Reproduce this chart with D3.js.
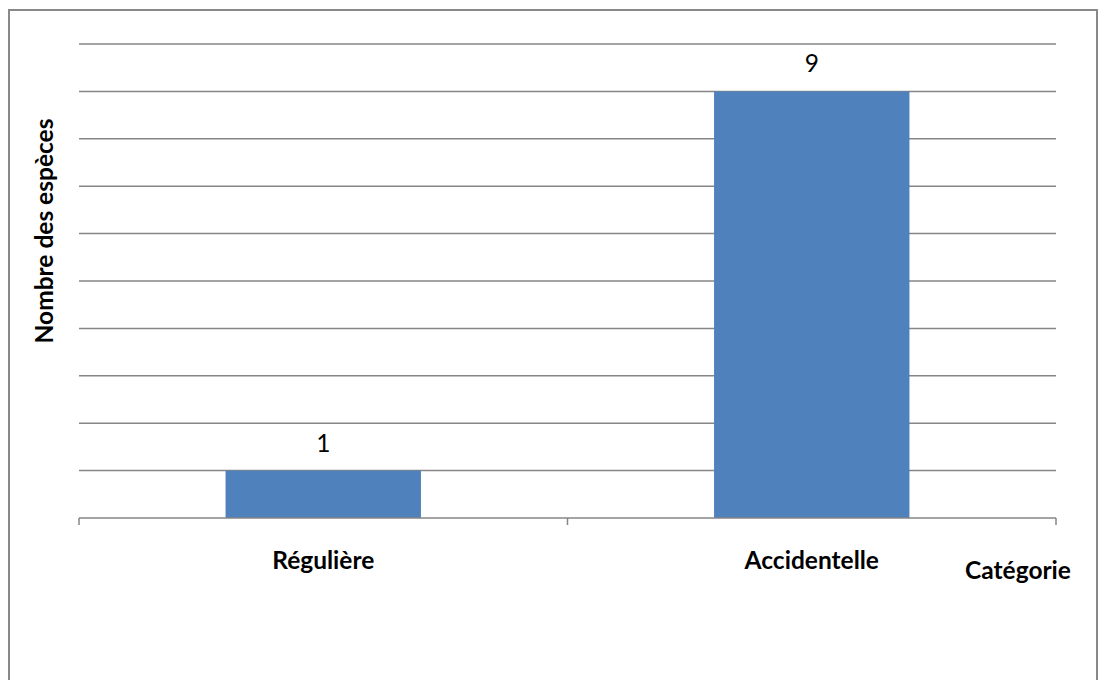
<!DOCTYPE html>
<html>
<head>
<meta charset="utf-8">
<script src="https://cdn.jsdelivr.net/npm/d3@7/dist/d3.min.js"></script>
<style>
  html, body { margin: 0; padding: 0; background: #fff; }
  svg { display: block; font-family: Lato, "Open Sans", "DejaVu Sans", sans-serif; }
</style>
</head>
<body>
<svg id="chart" width="1100" height="680"></svg>
<script>
// Species count by occurrence category
const categories = ["Régulière", "Accidentelle"];
const values = [1, 9];
const yTicks = [0, 1, 2, 3, 4, 5, 6, 7, 8, 9, 10];
const yTitle = "Nombre des espèces";
const xTitle = "Catégorie";

const svg = d3.select("#chart");
const plot = { left: 79, right: 1056, top: 44, bottom: 518 };
const fontSize = 24.5;

// Outer frame
svg.append("rect")
  .attr("x", 9).attr("y", 10)
  .attr("width", 1088).attr("height", 700)
  .attr("fill", "#fff")
  .attr("stroke", "#898989").attr("stroke-width", 2);

const x = d3.scaleBand()
  .domain(categories)
  .range([plot.left, plot.right])
  .paddingInner(0.6)
  .paddingOuter(0.3);

const y = d3.scaleLinear()
  .domain([0, 10])
  .range([plot.bottom, plot.top]);

// Horizontal gridlines
svg.append("g")
  .selectAll("line")
  .data(yTicks.filter(d => d > 0))
  .join("line")
  .attr("x1", plot.left).attr("x2", plot.right)
  .attr("y1", d => y(d)).attr("y2", d => y(d))
  .attr("stroke", "#868686").attr("stroke-width", 1.5);

// Bars
svg.append("g")
  .selectAll("rect")
  .data(values)
  .join("rect")
  .attr("x", (d, i) => x(categories[i]))
  .attr("y", d => y(d))
  .attr("width", x.bandwidth())
  .attr("height", d => y(0) - y(d))
  .attr("fill", "#4F81BD");

// Value labels
svg.append("g")
  .selectAll("text")
  .data(values)
  .join("text")
  .attr("x", (d, i) => x(categories[i]) + x.bandwidth() / 2)
  .attr("y", d => y(d) - 19)
  .attr("text-anchor", "middle")
  .attr("font-size", fontSize)
  .attr("fill", "#000")
  .text(d => d);

// Category axis with boundary ticks
const boundaries = [plot.left, (plot.left + plot.right) / 2, plot.right];
svg.append("line")
  .attr("x1", plot.left).attr("x2", plot.right)
  .attr("y1", plot.bottom).attr("y2", plot.bottom)
  .attr("stroke", "#868686").attr("stroke-width", 1.5);
svg.append("g")
  .selectAll("line")
  .data(boundaries)
  .join("line")
  .attr("x1", d => d).attr("x2", d => d)
  .attr("y1", plot.bottom).attr("y2", plot.bottom + 7)
  .attr("stroke", "#868686").attr("stroke-width", 1.5);

svg.append("g")
  .selectAll("text")
  .data(categories)
  .join("text")
  .attr("x", d => x(d) + x.bandwidth() / 2)
  .attr("y", 569)
  .attr("text-anchor", "middle")
  .attr("font-size", fontSize)
  .attr("font-weight", "bold")
  .attr("fill", "#000")
  .text(d => d);

// Axis titles
svg.append("text")
  .attr("x", 1018).attr("y", 579)
  .attr("text-anchor", "middle")
  .attr("font-size", fontSize)
  .attr("font-weight", "bold")
  .text(xTitle);

svg.append("text")
  .attr("transform", "translate(53,231) rotate(-90)")
  .attr("text-anchor", "middle")
  .attr("font-size", fontSize)
  .attr("font-weight", "bold")
  .text(yTitle);
</script>
</body>
</html>
